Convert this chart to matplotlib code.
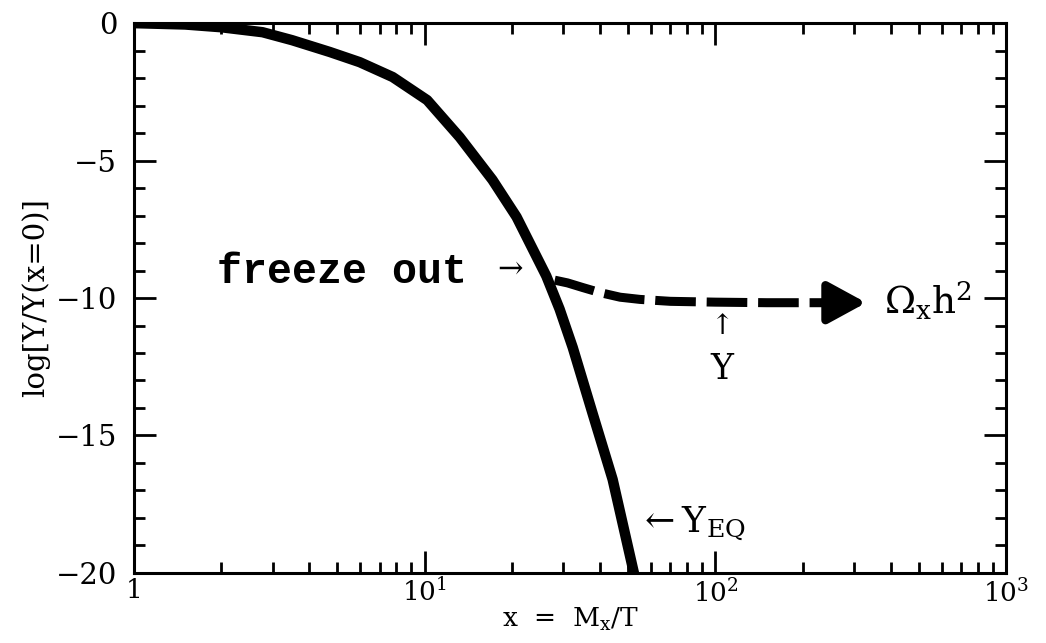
import numpy as np
import matplotlib
matplotlib.use('Agg')
import matplotlib.pyplot as plt

# equilibrium abundance Y_EQ
x_eq = [1, 1.5, 2, 2.77, 3.5, 4.72, 5.98, 7.76, 10.2, 13.2, 17.1, 20.7,
        26.2, 29.1, 32.3, 37.8, 44.3, 51.9, 54]
y_eq = [0, -0.05, -0.15, -0.33, -0.62, -1.05, -1.42, -1.96, -2.8, -4.15, -5.7, -7.05,
        -9.2, -10.4, -11.8, -14.2, -16.6, -19.8, -20.6]

# actual abundance Y after freeze out (dashed)
x_y = [28, 31, 35, 40, 47, 55, 70, 100, 150, 200, 250]
y_y = [-9.35, -9.45, -9.62, -9.8, -9.97, -10.05, -10.12, -10.15, -10.17, -10.17, -10.17]
x_tip = 330

xticks = [1, 10, 100, 1000]
xticklabels = ['1', '$10^1$', '$10^2$', '$10^3$']
yticks = [0, -5, -10, -15, -20]

plt.rcParams['font.family'] = 'DejaVu Serif'
plt.rcParams['mathtext.fontset'] = 'dejavuserif'

fig = plt.figure(figsize=(10.46, 6.43), dpi=100)
ax = fig.add_axes([0.128, 0.109, 0.834, 0.855])

ax.plot(x_eq, y_eq, color='black', lw=7.5, solid_capstyle='butt', solid_joinstyle='round')
ax.plot(x_y, y_y, color='black', lw=6.5, linestyle=(0, (4.5, 1.2)))
ax.annotate('', xy=(x_tip, y_y[-1]), xytext=(x_y[-1] * 0.98, y_y[-1]),
            arrowprops=dict(arrowstyle='-|>,head_length=1.1,head_width=0.6',
                            mutation_scale=21, lw=6, color='black',
                            shrinkA=0, shrinkB=0))

ax.set_xscale('log')
ax.set_xlim(1, 1000)
ax.set_ylim(-20, 0)
ax.set_xticks(xticks)
ax.set_xticklabels(xticklabels)
ax.set_yticks(yticks)
ax.set_yticklabels(['0', '\u22125', '\u221210', '\u221215', '\u221220'])
ax.yaxis.set_minor_locator(matplotlib.ticker.MultipleLocator(1))
ax.xaxis.set_minor_locator(matplotlib.ticker.LogLocator(base=10, subs=np.arange(2, 10)))
ax.xaxis.set_minor_formatter(matplotlib.ticker.NullFormatter())

ax.tick_params(which='both', direction='in', top=True, right=True, width=2)
ax.tick_params(axis='y', pad=12, labelsize=21)
ax.tick_params(axis='x', pad=4, labelsize=19)
ax.tick_params(which='major', length=16)
ax.tick_params(which='minor', length=8)
for s in ax.spines.values():
    s.set_linewidth(2.2)

ax.set_ylabel('log[Y/Y(x=0)]', fontsize=21, labelpad=4)
ax.set_xlabel(r'x  =  M$_\mathrm{x}$/T', fontsize=19, labelpad=-1)

# annotations
ax.text(5.2, -9.05, 'freeze out', fontsize=30, fontweight='bold',
        family='Liberation Mono', ha='center', va='center')
ax.text(19.6, -8.95, '\u2192', fontsize=22, ha='center', va='center')
ax.text(105, -11.05, '\u2191', fontsize=20, ha='center', va='center')
ax.text(105, -12.6, 'Y', fontsize=25, ha='center', va='center')
ax.text(54, -18.2, r'$\leftarrow$Y$_{\rm EQ}$', fontsize=26, ha='left', va='center')
ax.text(380, -10.1, r'$\Omega_\mathrm{x}$h$^2$', fontsize=27, ha='left', va='center')

fig.savefig('out.png', dpi=100)
